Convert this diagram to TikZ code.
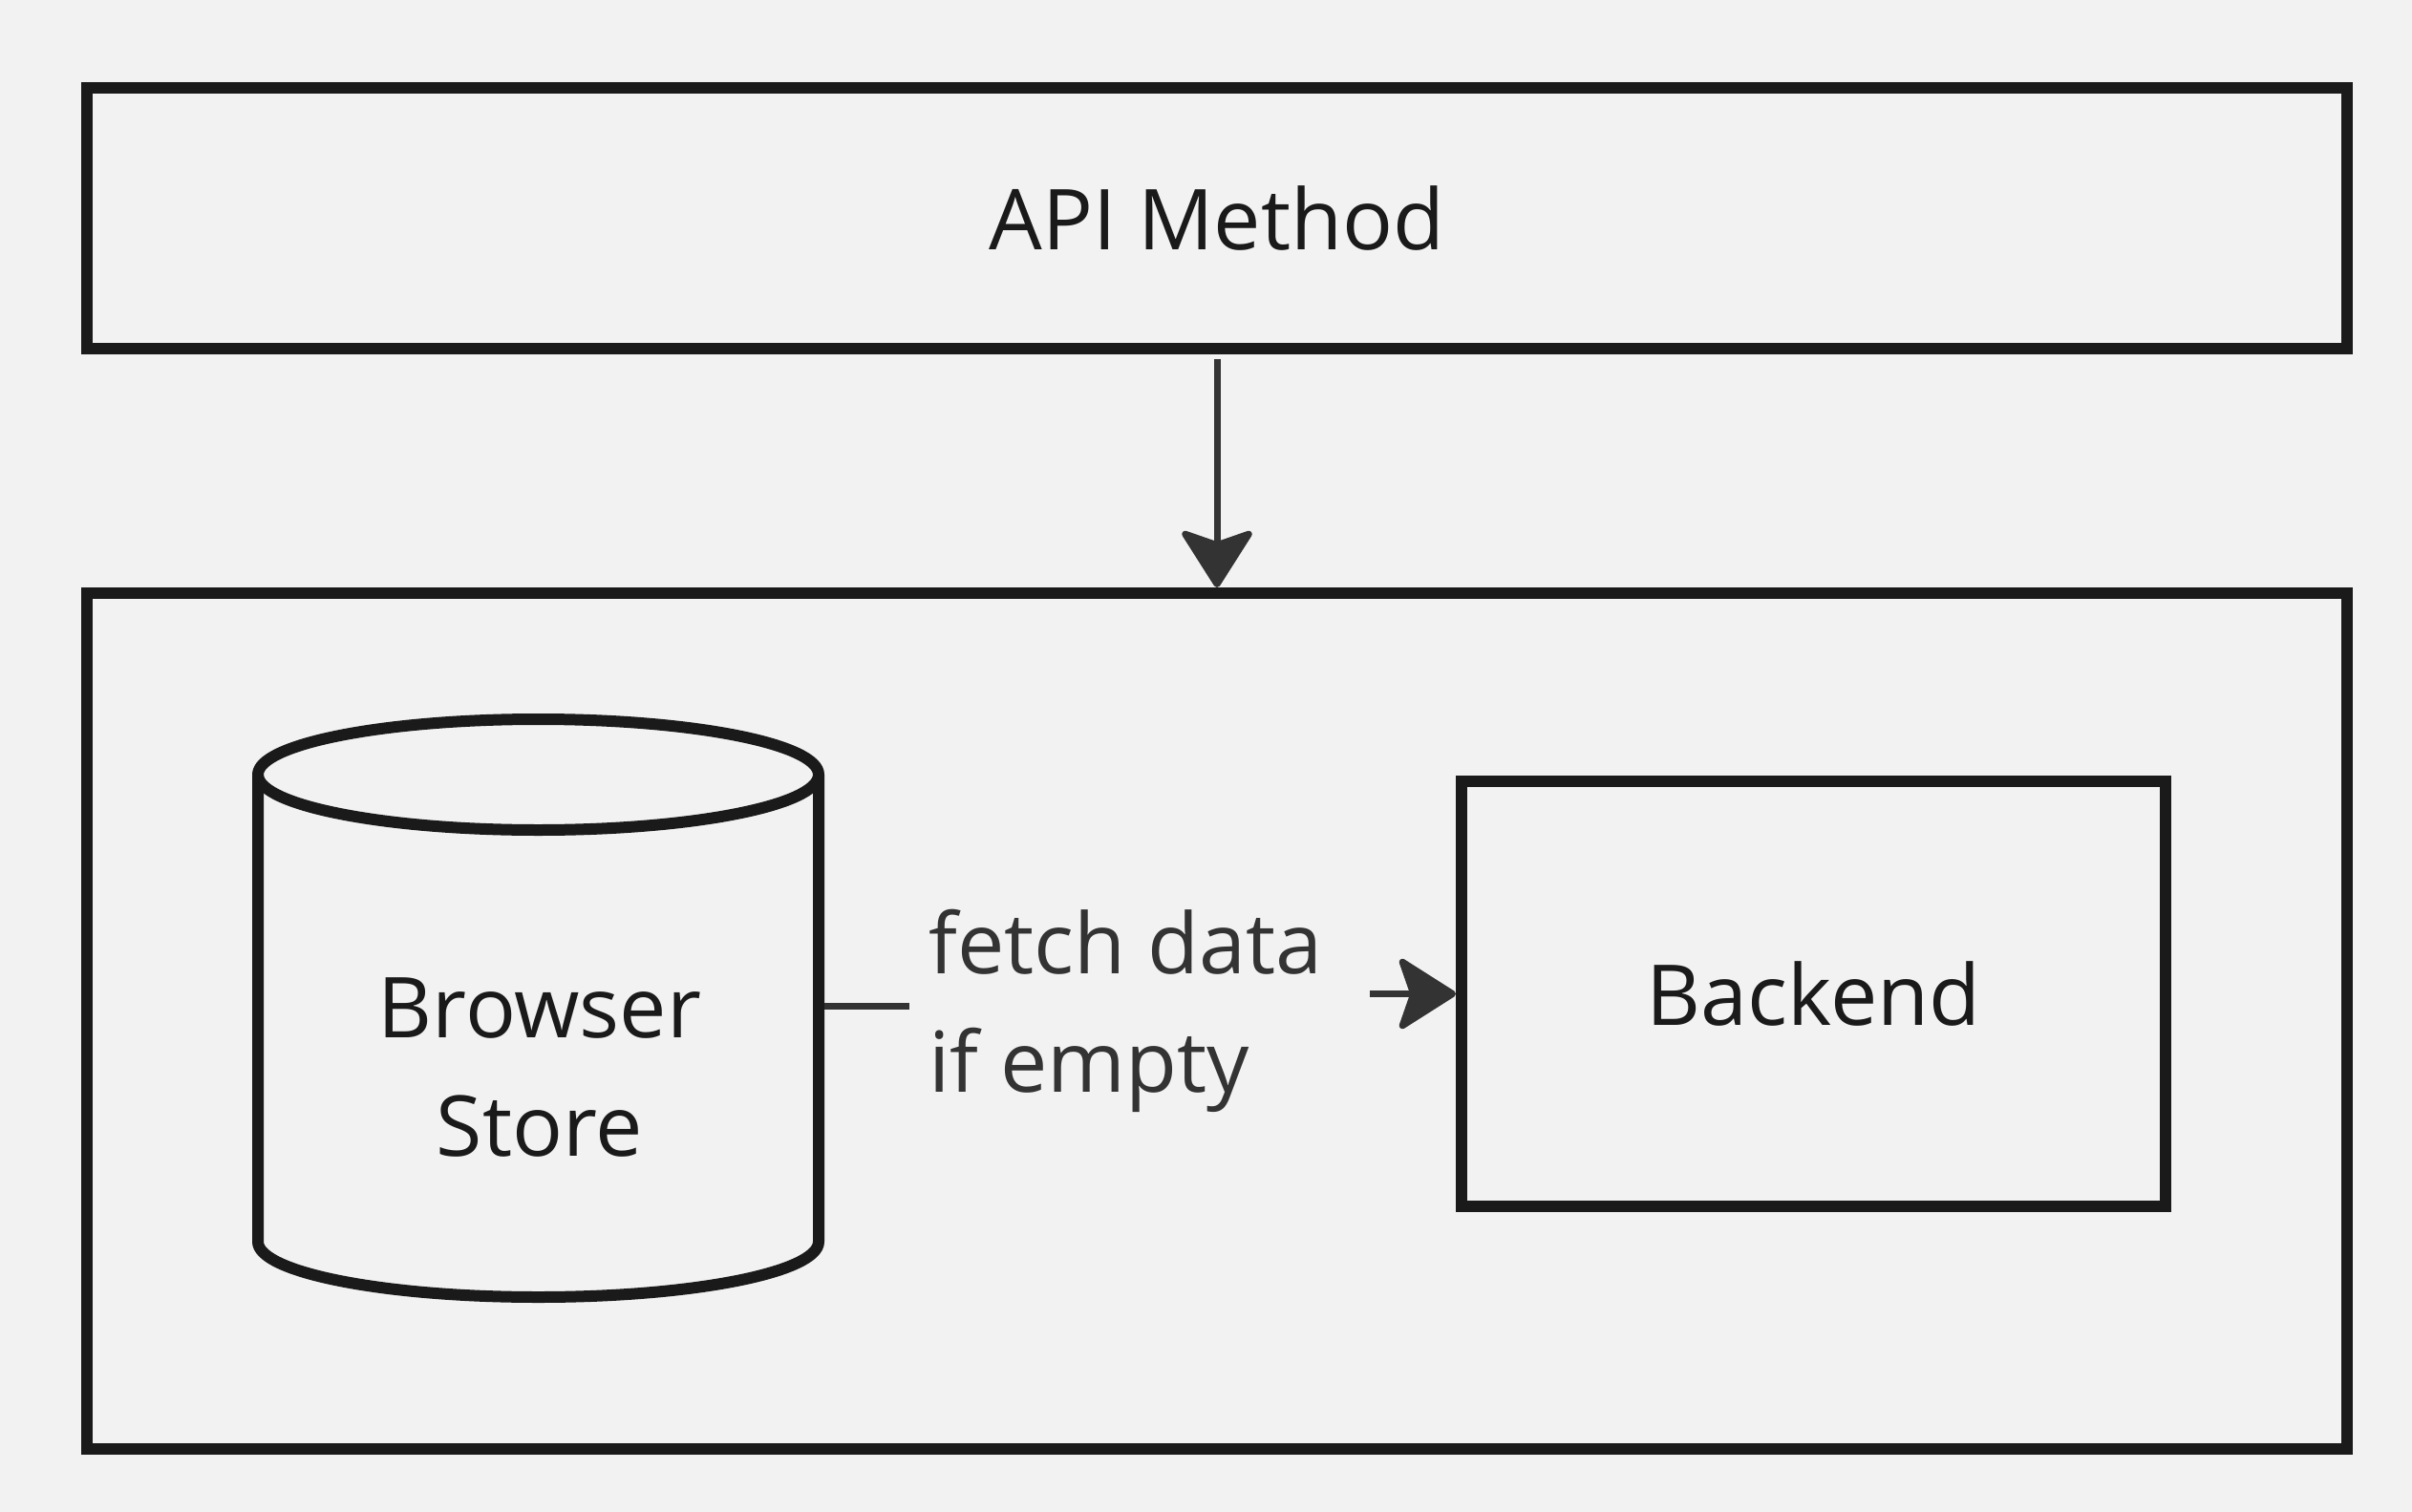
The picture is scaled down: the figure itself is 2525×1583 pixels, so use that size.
\documentclass[tikz,border=0pt]{standalone}
\usepackage{fontspec}
\setmainfont{Open Sans}
\usetikzlibrary{arrows.meta}
\definecolor{bg}{HTML}{F2F2F2}
\definecolor{ink}{HTML}{1A1A1A}
\definecolor{arr}{HTML}{333333}
\begin{document}
\begin{tikzpicture}[x=0.5pt,y=-0.5pt,
  box/.style={draw=ink, line width=6pt, inner sep=0pt},
  lbl/.style={font=\fontsize{44}{62}\selectfont, text=ink},
  conn/.style={draw=arr, line width=3.5pt,
    -{Stealth[length=32.5pt,width=41pt,inset=7pt,round]}},
  cylline/.style={draw=ink, line width=6pt, line join=round}]
\useasboundingbox[fill=bg] (0,0) rectangle (2525,1583);

% top box
\node[box, lbl, minimum width=1183pt, minimum height=136.25pt]
  (api) at (1274,228.75) {API Method};

% outer container
\node[box, minimum width=1183pt, minimum height=448pt]
  (outer) at (1274,1069) {};

% backend
\node[box, lbl, minimum width=368.5pt, minimum height=222.5pt]
  (backend) at (1898.5,1040.5) {Backend};

% cylinder (browser store)
\draw[cylline] (563.5,811) ellipse [x radius=146.75pt, y radius=29pt];
\draw[cylline] (270,811) -- (270,1300)
  arc[start angle=180, end angle=360, x radius=146.75pt, y radius=29pt]
  -- (857,811);
\node[inner sep=0pt, outer sep=3pt, minimum width=293.5pt, minimum height=244.5pt]
  (cyl) at (563.5,1053) {};
\node[lbl, anchor=base, inner sep=0pt] (bstext) at (565,1086)
  {\begin{tabular}[t]{@{}c@{}}Browser\\Store\end{tabular}};

% connectors
\draw[conn, shorten <=2.5pt] (api.south) -- (outer.north);
\coordinate (mid) at (1190,1053);
\draw[conn] (cyl.east) -- (mid) |- (backend.west);
\node[lbl, text=arr, fill=bg, anchor=base west, inner sep=0pt] (fetch) at (952,1019)
  {\begin{tabular}[t]{@{\hspace{10pt}}l@{\hspace{25pt}}}fetch data\\if empty\end{tabular}};
\end{tikzpicture}
\end{document}
